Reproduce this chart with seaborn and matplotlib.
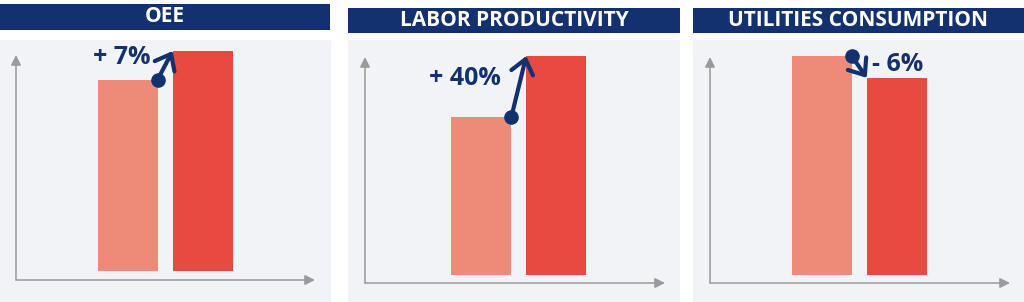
import matplotlib
matplotlib.use("Agg")
import matplotlib.pyplot as plt
from matplotlib.patches import Rectangle
import seaborn as sns
import pandas as pd

# ---- data ----
panel_titles = ["OEE", "LABOR PRODUCTIVITY", "UTILITIES CONSUMPTION"]
periods = ["Before", "After"]
oee_values = [87, 100]
labor_values = [72, 100]
utilities_values = [100, 90]
change_labels = ["+ 7%", "+ 40%", "- 6%"]

series = [oee_values, labor_values, utilities_values]

# ---- style ----
sns.set_theme(style="white")
plt.rcParams["font.family"] = ["Open Sans", "DejaVu Sans"]

NAVY = "#13316f"
BG = "#f2f3f7"
BAR_COLORS = ["#ee8b78", "#e84a41"]
AXIS_GRAY = "#9a9a9a"

W, H = 1024, 302
fig = plt.figure(figsize=(W / 100, H / 100), dpi=100)
fig.patch.set_facecolor("white")


def frac(x0, y0, x1, y1):
    return [x0 / W, 1 - y1 / H, (x1 - x0) / W, (y1 - y0) / H]


# layout (pixels): title bar, background, data axes, y-axis arrow top, xlim, ylim, label offset
layouts = [
    dict(title=(0, 4, 330, 30), bg=(0, 40, 331, 302), ax=(16, 40, 315, 280), ytop=55,
         xlim=(-1.49, 2.50), ylim=(-4.1, 105.0), lab=(-16, -4.5, "right")),
    dict(title=(348, 8, 680, 33), bg=(348, 40, 680, 302), ax=(365, 40, 665, 283), ytop=57,
         xlim=(-1.55, 2.45), ylim=(-3.65, 107.3), lab=(-18.5, -16, "right")),
    dict(title=(693, 8, 1024, 33), bg=(693, 40, 1024, 302), ax=(710, 40, 1010, 283), ytop=57,
         xlim=(-1.49, 2.51), ylim=(-3.65, 107.3), lab=(3.5, 9.5, "left")),
]

for title, vals, change, lay in zip(panel_titles, series, change_labels, layouts):
    # background panel
    bg = fig.add_axes(frac(*lay["bg"]))
    bg.set_facecolor(BG)
    bg.set_xticks([]); bg.set_yticks([])
    for s in bg.spines.values():
        s.set_visible(False)

    # title bar
    tx0, ty0, tx1, ty1 = lay["title"]
    fx, fy, fw, fh = frac(tx0, ty0, tx1, ty1)
    fig.patches.append(Rectangle((fx, fy), fw, fh, transform=fig.transFigure,
                                 facecolor=NAVY, edgecolor="none", zorder=1))
    fig.text(fx + fw / 2, fy + fh / 2, title, color="white", fontsize=15,
             fontweight="bold", ha="center", va="center", zorder=2)

    # data axes
    ax = fig.add_axes(frac(*lay["ax"]))
    ax.patch.set_alpha(0)
    df = pd.DataFrame({"period": periods, "value": vals})
    sns.barplot(data=df, x="period", y="value", hue="period", palette=BAR_COLORS,
                saturation=1, width=0.8, legend=False, ax=ax, linewidth=0)
    for p in ax.patches:
        p.set_clip_on(False)
        p.set_edgecolor("none")
    ax.set_xlim(*lay["xlim"])
    ax.set_ylim(*lay["ylim"])
    ax.set_axis_off()

    # axis arrows
    ytop_frac = (lay["ax"][3] - lay["ytop"]) / (lay["ax"][3] - lay["ax"][1])
    arrow_kw = dict(arrowstyle="-|>,head_length=0.6,head_width=0.3", color=AXIS_GRAY,
                    lw=1.1, shrinkA=0, shrinkB=0, mutation_scale=10)
    ax.annotate("", xy=(1, 0), xytext=(0, 0), xycoords="axes fraction",
                textcoords="axes fraction", arrowprops=arrow_kw)
    ax.annotate("", xy=(0, ytop_frac), xytext=(0, 0), xycoords="axes fraction",
                textcoords="axes fraction", arrowprops=arrow_kw)

    # change arrow from top-right of first bar to top-left of second bar
    x_from, y_from = 0.4, vals[0]
    x_to, y_to = 0.6, vals[1]
    ax.annotate("", xy=(x_to, y_to), xytext=(x_from, y_from),
                arrowprops=dict(arrowstyle="->,head_length=0.5,head_width=0.4",
                                color=NAVY, lw=3.0, shrinkA=0, shrinkB=0,
                                mutation_scale=20, capstyle="round", joinstyle="round"),
                annotation_clip=False)
    ax.plot([x_from], [y_from], marker="o", ms=9.5, color=NAVY, clip_on=False, zorder=5)

    dx, dy, ha = lay["lab"]
    ax.annotate(change, xy=(x_to, y_to), xytext=(dx, dy), textcoords="offset points",
                ha=ha, va="center", fontsize=18, fontweight="bold", color=NAVY,
                annotation_clip=False)

fig.savefig("out.png", dpi=100, facecolor="white")
